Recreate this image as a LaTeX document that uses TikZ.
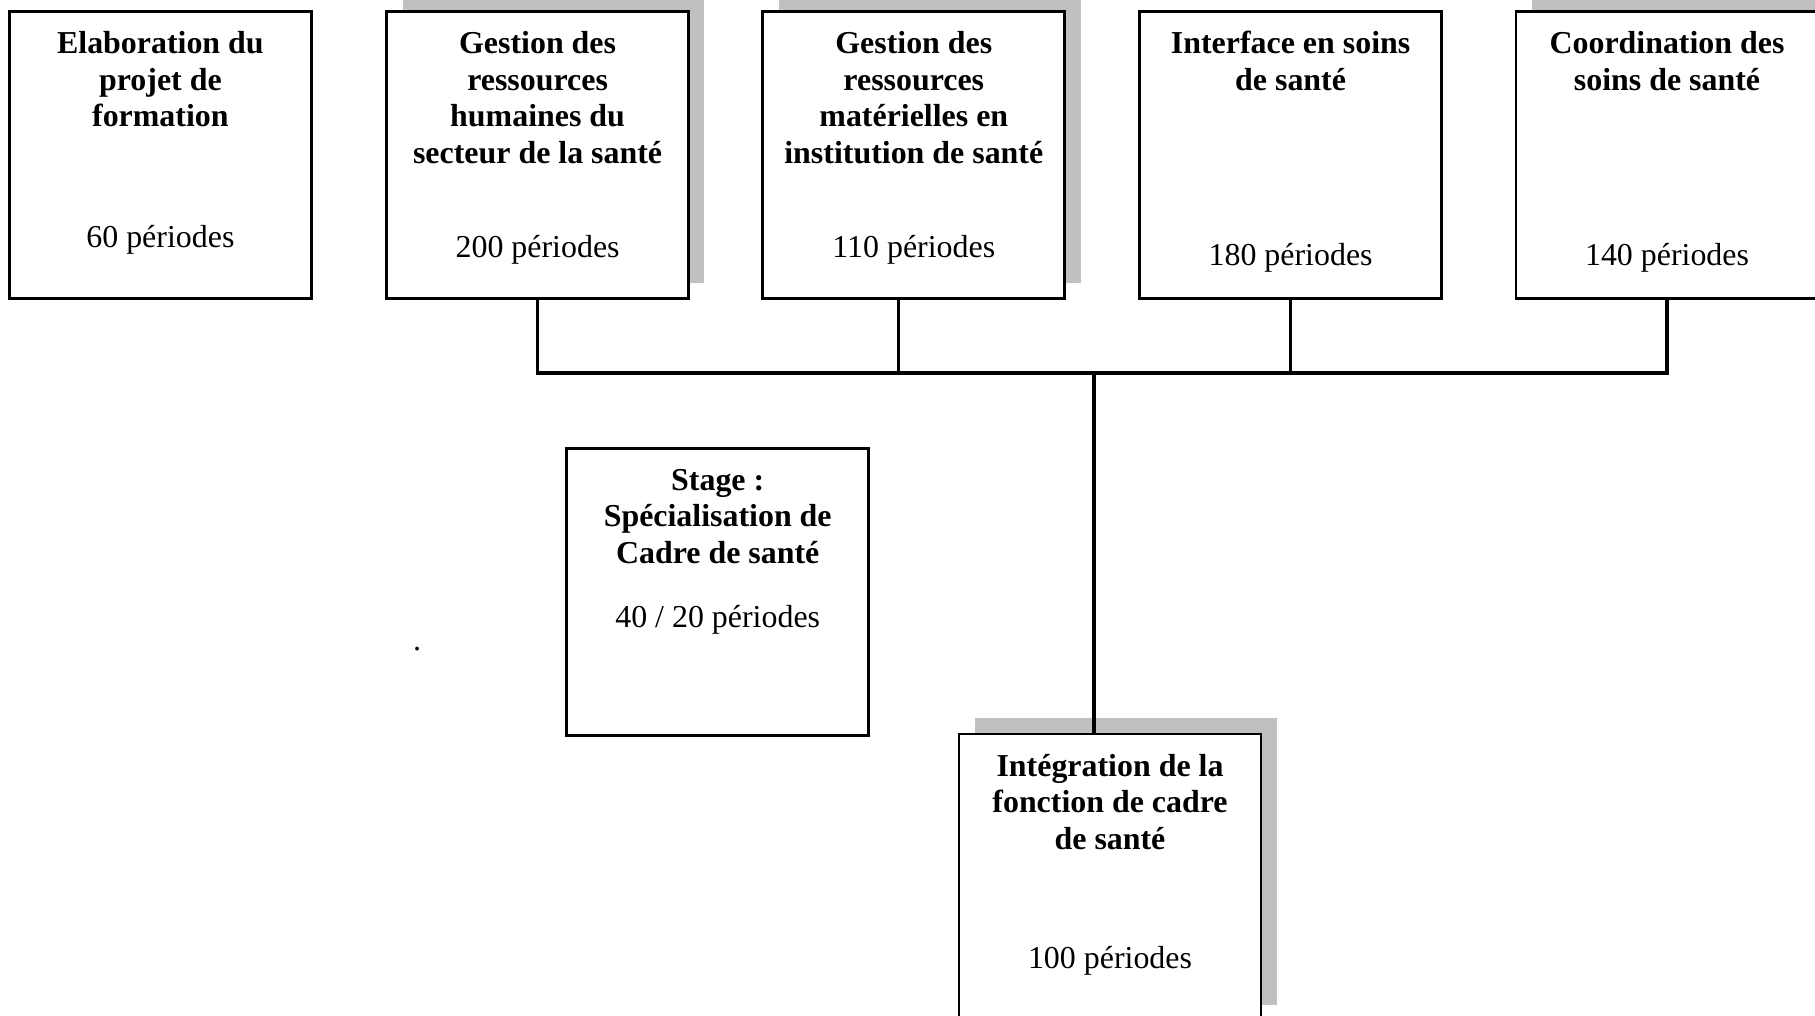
\documentclass[tikz,border=0pt]{standalone}
\usepackage{fontspec}
\setmainfont{Liberation Serif}
\usetikzlibrary{shadows,calc}
\definecolor{shadowgray}{RGB}{192,192,192}
\begin{document}
\begin{tikzpicture}[x=0.376pt, y=-0.376pt,
  box/.style={draw=black, line width=1.05pt, fill=white, inner sep=0pt, outer sep=0pt,
              minimum width=113.5pt, minimum height=107.9pt},
  shadowed/.style={drop shadow={shadow xshift=6pt, shadow yshift=6pt, fill=shadowgray, opacity=1}},
  ttl/.style={anchor=base, inner sep=0pt, font=\fontsize{12}{13.8}\selectfont\bfseries},
  per/.style={anchor=base, inner sep=0pt, font=\fontsize{12}{13.8}\selectfont},
  link/.style={line width=1.4pt}]
\clip (0,0) rectangle (1815,1015);
\fill[white] (0,0) rectangle (1815,1015);

% boxes
\node[box] (b1) at (160.4,155.1) {};
\node[box,shadowed] (b2) at (537.6,155.1) {};
\node[box,shadowed] (b3) at (913.8,155.1) {};
\node[box] (b4) at (1290.6,155.1) {};
\node[box,shadowed] (b5) at (1667,155.1) {};
\node[box] (st) at (717.7,592) {};
\node[box,shadowed] (b6) at (1110,877.5) {};

% box 1
\node[ttl] (t1a) at (160.4,53.7) {Elaboration du};
\node[ttl] (t1b) at (160.4,90.3) {projet de};
\node[ttl] (t1c) at (160.4,126.9) {formation};
\node[per] (p1) at (160.4,247) {60 périodes};
% box 2
\node[ttl] (t2a) at (537.6,53.7) {Gestion des};
\node[ttl] (t2b) at (537.6,90.3) {ressources};
\node[ttl] (t2c) at (537.6,126.9) {humaines du};
\node[ttl] (t2d) at (537.6,163.5) {secteur de la santé};
\node[per] (p2) at (537.6,257) {200 périodes};
% box 3
\node[ttl] (t3a) at (913.8,53.7) {Gestion des};
\node[ttl] (t3b) at (913.8,90.3) {ressources};
\node[ttl] (t3c) at (913.8,126.9) {matérielles en};
\node[ttl] (t3d) at (913.8,163.5) {institution de santé};
\node[per] (p3) at (913.8,257) {110 périodes};
% box 4
\node[ttl] (t4a) at (1290.6,53.7) {Interface en soins};
\node[ttl] (t4b) at (1290.6,90.3) {de santé};
\node[per] (p4) at (1290.6,265) {180 périodes};
% box 5
\node[ttl] (t5a) at (1667,53.7) {Coordination des};
\node[ttl] (t5b) at (1667,90.3) {soins de santé};
\node[per] (p5) at (1667,265) {140 périodes};
% stage
\node[ttl] (tsa) at (717.7,490) {Stage :};
\node[ttl] (tsb) at (717.7,526.5) {Spécialisation de};
\node[ttl] (tsc) at (717.7,563) {Cadre de santé};
\node[per] (ps) at (717.7,627.5) {40 / 20 périodes};
% box 6
\node[ttl] (t6a) at (1110,776) {Intégration de la};
\node[ttl] (t6b) at (1110,812.5) {fonction de cadre};
\node[ttl] (t6c) at (1110,849) {de santé};
\node[per] (p6) at (1110,968) {100 périodes};

% stray dot
\node[per] (dot) at (417,650) {.};

% connectors
\coordinate (bus) at (0,373.3);
\draw[link] (b2.south) -- (b2.south |- bus) -- (b5.south |- bus) -- (b5.south);
\coordinate (b3c) at ($(b3.south)+(-15.2,0)$);
\draw[link] (b3c) -- (b3c |- bus);
\draw[link] (b4.south) -- (b4.south |- bus);
\coordinate (b6c) at ($(b6.north)+(-16,0)$);
\draw[link] (b6c |- bus) -- (b6c);
\end{tikzpicture}
\end{document}
